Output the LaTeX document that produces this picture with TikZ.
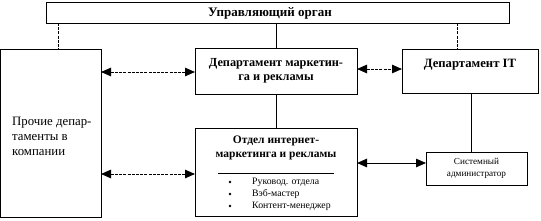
\documentclass[tikz,border=0pt]{standalone}
\usepackage{fontspec}
\setmainfont{Liberation Serif}
\usetikzlibrary{arrows.meta}
\tikzset{
  box/.style={draw, line width=1pt, inner sep=0pt},
  lnk/.style={line width=1pt},
  dlnk/.style={line width=1pt, dash pattern=on 3pt off 1.2pt},
  biarrow/.style={line width=1pt, {Triangle[length=10pt,width=8.5pt]}-{Triangle[length=10pt,width=8.5pt]}},
  lbl/.style={font=\fontsize{12.3}{14.5}\selectfont\bfseries, align=center, inner sep=0pt},
  sm/.style={font=\fontsize{9.8}{11}\selectfont, inner sep=0pt},
}
\begin{document}
\begin{tikzpicture}[x=1pt,y=-1pt]
\useasboundingbox (0,0) rectangle (541,220);
% boxes
\draw[box] (46,2) rectangle (509,23);
\coordinate (topL) at (58,23); \coordinate (topM) at (276,23); \coordinate (topR) at (457,23);
\node[lbl, font=\fontsize{13}{15}\selectfont\bfseries] (top) at (270,13) {Управляющий орган};

\draw[box] (0.5,49) rectangle (101,217);
\coordinate (leftT) at (58,49);
\node[font=\fontsize{12.8}{15}\selectfont, align=left, inner sep=0pt, anchor=west] (left) at (12,136) {Прочие депар-\\таменты в\\компании};

\draw[box] (195,48) rectangle (357,94);
\node[lbl] (mkt) at (276,71) {Департамент маркетин-\\га и рекламы};

\draw[box] (402,49) rectangle (538,93);
\node[lbl, font=\fontsize{12.7}{14.5}\selectfont\bfseries] (it) at (470,65) {Департамент IT};

\draw[box] (195,128) rectangle (357,216);
\node[lbl, font=\fontsize{11.5}{13.5}\selectfont\bfseries] (otd) at (276,148) {Отдел интернет-\\маркетинга и рекламы};
\draw[line width=0.6pt] (218,173) -- (334,173);
\node[sm, anchor=west] (i1) at (252,182) {Руковод. отдела};
\node[sm, anchor=west] (i2) at (252,194) {Вэб-мастер};
\node[sm, anchor=west] (i3) at (252,206) {Контент-менеджер};
\foreach \yy in {182,194,206} \fill (230,\yy) circle (1.4pt);

\draw[box] (426,152) rectangle (527,185);
\node[sm, align=center, font=\fontsize{9.2}{11.5}\selectfont] (sys) at (476.5,168.5) {Системный\\администратор};

% vertical links
\draw[dlnk] (topL) -- (leftT);
\draw[lnk] (topM) -- (276,48);
\draw[dlnk] (topR) -- (457,49);
\draw[lnk] (276,94) -- (276,128);
\draw[lnk] (471,93) -- (471,152);

% arrows
\draw[biarrow, dash pattern=on 3pt off 1.2pt] (101,72) -- (195,72);
\draw[biarrow, dash pattern=on 3pt off 1.2pt] (357,69) -- (402,69);
\draw[biarrow, dash pattern=on 3pt off 1.2pt] (101,174) -- (195,174);
\draw[biarrow] (357,163) -- (426,163);
\end{tikzpicture}
\end{document}
